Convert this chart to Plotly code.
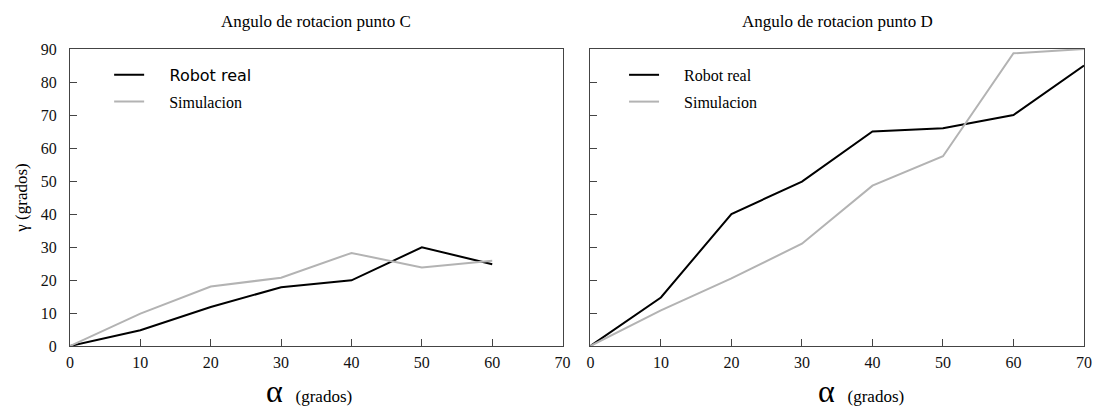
import plotly.graph_objects as go

alpha = [0, 10, 20, 30, 40, 50, 60]
alpha_d = [0, 10, 20, 30, 40, 50, 60, 70]

c_robot = [0, 4.8, 11.8, 17.8, 19.9, 29.9, 24.8]
c_sim = [0, 9.8, 18.0, 20.7, 28.2, 23.8, 25.8]

d_robot = [0, 14.7, 40.0, 49.8, 65.0, 66.0, 70.0, 85.0]
d_sim = [0, 10.8, 20.5, 31.0, 48.6, 57.5, 88.7, 90.0]

x_ticks = [0, 10, 20, 30, 40, 50, 60, 70]
y_ticks = [0, 10, 20, 30, 40, 50, 60, 70, 80, 90]

titles = ["Angulo de rotacion punto C", "Angulo de rotacion punto D"]

SERIF = "Liberation Serif, Times New Roman, serif"
BLACK = "#000000"
GRAY = "#b3b3b3"
NB = "\u00a0"

fig = go.Figure()

fig.add_trace(go.Scatter(x=alpha, y=c_robot, mode="lines",
                         name="<span style='font-family:DejaVu Sans'>" + NB * 4 + "Robot real</span>",
                         line=dict(color=BLACK, width=2), xaxis="x", yaxis="y",
                         legend="legend", legendgroup="a"))
fig.add_trace(go.Scatter(x=alpha, y=c_sim, mode="lines", name=NB * 5 + "Simulacion",
                         line=dict(color=GRAY, width=2), xaxis="x", yaxis="y",
                         legend="legend", legendgroup="b"))
fig.add_trace(go.Scatter(x=alpha_d, y=d_robot, mode="lines", name=NB * 5 + "Robot real",
                         line=dict(color=BLACK, width=2), xaxis="x2", yaxis="y2",
                         legend="legend2", legendgroup="c"))
fig.add_trace(go.Scatter(x=alpha_d, y=d_sim, mode="lines", name=NB * 5 + "Simulacion",
                         line=dict(color=GRAY, width=2), xaxis="x2", yaxis="y2",
                         legend="legend2", legendgroup="d"))

axis_common = dict(
    showgrid=False, zeroline=False, showline=True, mirror=True,
    linecolor="#444444", linewidth=1, ticks="inside", ticklen=7,
    tickcolor="#444444", tickfont=dict(family=SERIF, size=16, color="#111111"),
)

d1 = [0, 0.4858]
d2 = [0.5132, 1]

fig.update_layout(
    width=1104, height=412,
    margin=dict(l=70, r=13, t=49, b=66),
    plot_bgcolor="white", paper_bgcolor="white",
    showlegend=True,
    xaxis=dict(domain=d1, range=[0, 70], tickvals=x_ticks, anchor="y",
               ticklabelstandoff=2, **axis_common),
    yaxis=dict(range=[0, 90], tickvals=y_ticks, anchor="x", ticklabelstandoff=9,
               title=dict(text=NB * 3 + "γ (grados)",
                          font=dict(family=SERIF, size=17, color="#000000"), standoff=8),
               **axis_common),
    xaxis2=dict(domain=d2, range=[0, 70], tickvals=x_ticks, anchor="y2",
                ticklabelstandoff=2, **axis_common),
    yaxis2=dict(range=[0, 90], tickvals=y_ticks, showticklabels=False, anchor="x2", **axis_common),
    legend=dict(x=0.0386, y=0.97, xanchor="left", yanchor="top", bgcolor="rgba(0,0,0,0)",
                font=dict(family=SERIF, size=16, color="#000000"), tracegroupgap=3),
    legend2=dict(x=0.5464, y=0.97, xanchor="left", yanchor="top", bgcolor="rgba(0,0,0,0)",
                 font=dict(family=SERIF, size=16, color="#000000"), tracegroupgap=3),
)

for i, t in enumerate(titles):
    dom = d1 if i == 0 else d2
    fig.add_annotation(text=t, xref="paper", yref="paper", x=(dom[0] + dom[1]) / 2,
                       y=1.094, xanchor="center", yanchor="middle", showarrow=False,
                       font=dict(family=SERIF, size=17, color="#000000"))

# x axis titles (alpha (grados)) placed under each panel
xt_text = "<span style='font-size:32px'>α</span>" + NB * 3 + "(grados)"
for xpos in [0.191, 0.7356]:
    fig.add_annotation(text=xt_text, xref="paper", yref="paper", x=xpos, y=-0.2189,
                       xanchor="left", yanchor="bottom", showarrow=False,
                       font=dict(family=SERIF, size=17, color="#000000"))

fig.write_html("out.html", config={"displayModeBar": False},
               post_script="document.body.style.margin='0';")
